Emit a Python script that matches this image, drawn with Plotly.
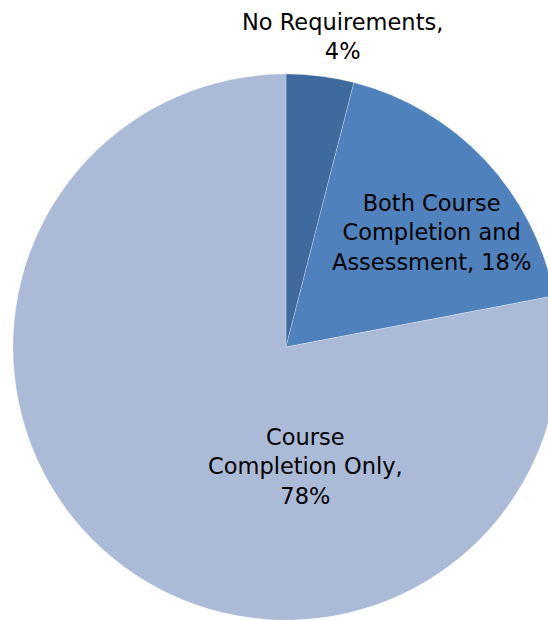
import plotly.graph_objects as go

labels = ["No Requirements", "Both Course Completion and Assessment", "Course Completion Only"]
values = [4, 18, 78]
colors = ["#3F6A9D", "#4F81BD", "#ABBAD7"]
label_lines = [["No Requirements,"], ["Both Course", "Completion and", "Assessment,"], ["Course", "Completion Only,"]]

W, H = 572, 620
cx, r = 286, 273

fig = go.Figure(go.Pie(
    labels=labels, values=values, sort=False, direction="clockwise", rotation=0,
    marker=dict(colors=colors, line=dict(color="rgba(255,255,255,0.5)", width=0.5)),
    textinfo="none", hoverinfo="label+percent", showlegend=False,
    domain=dict(x=[(cx - r) / W, (cx + r) / W], y=[0, 2 * r / H]),
))

# label positions (pixel, from top-left)
pos = [(342, 36), (431, 232), (305, 466)]
for lines, v, (px, py) in zip(label_lines, values, pos):
    if len(lines) == 3:
        txt = "<br>".join(lines[:2] + [f"{lines[2]} {v}%"])
    else:
        txt = "<br>".join(lines + [f"{v}%"])
    fig.add_annotation(x=px / W, y=1 - py / H, xref="paper", yref="paper", text=txt,
                       showarrow=False, xanchor="center", yanchor="middle",
                       font=dict(family="DejaVu Sans", size=22.5, color="#000000"))

fig.update_layout(width=W, height=H, margin=dict(l=0, r=0, t=0, b=0),
                  paper_bgcolor="white", plot_bgcolor="white")

fig.write_html("out.html", config={"displayModeBar": False},
               post_script="document.body.style.margin='0';document.body.style.overflow='hidden';document.documentElement.style.overflow='hidden';")
